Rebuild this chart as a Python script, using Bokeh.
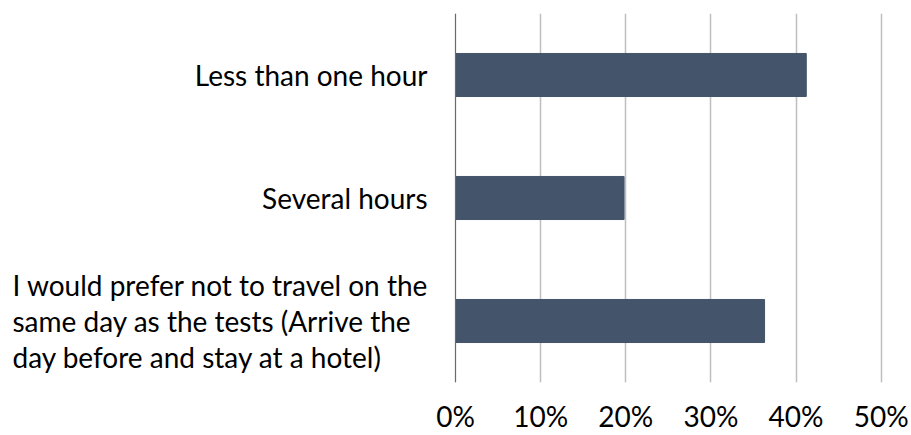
from bokeh.plotting import figure
from bokeh.models import Range1d, NumeralTickFormatter, FixedTicker, Span
from bokeh.embed import file_html
from bokeh.resources import INLINE

categories = [
    "Less than one hour",
    "Several hours",
    "I would prefer not to travel on the\nsame day as the tests (Arrive the\nday before and stay at a hotel)",
]
values = [0.412, 0.198, 0.363]
x_ticks = [0, 0.1, 0.2, 0.3, 0.4, 0.5]

FONT = "Lato"
FSIZE = "28px"

# layout: value 0 sits at pixel 455, 50% at ~881, in a 911px wide frame
W, H = 911, 435
ZERO_PX = 455
PX_PER_UNIT = 851.4
n = len(categories)
y_pos = [n - 1 - i for i in range(n)]  # first category on top

p = figure(
    width=W, height=H,
    y_range=Range1d(-0.5, n - 0.5),
    x_range=Range1d(-ZERO_PX / PX_PER_UNIT, (W - ZERO_PX) / PX_PER_UNIT),
    output_backend="svg", toolbar_location=None,
    min_border_left=0, min_border_right=0, min_border_top=13, min_border_bottom=52,
)
p.outline_line_color = None
p.background_fill_color = "white"
p.border_fill_color = "white"

p.xgrid.ticker = FixedTicker(ticks=x_ticks)
p.xgrid.grid_line_color = "#BFBFBF"
p.xgrid.grid_line_width = 1.5
p.ygrid.grid_line_color = None

p.hbar(y=y_pos, right=values, left=0, height=0.35, color="#44546A")

# value axis line at 0
p.add_layout(Span(location=0, dimension="height", line_color="#6B6B6B", line_width=1))

p.xaxis.ticker = FixedTicker(ticks=x_ticks)
p.xaxis.formatter = NumeralTickFormatter(format="0%")
p.xaxis.axis_line_color = None
p.xaxis.major_tick_line_color = None
p.xaxis.major_tick_out = 0
p.xaxis.minor_tick_line_color = None
p.xaxis.major_label_standoff = 16
p.xaxis.major_label_text_font = FONT
p.xaxis.major_label_text_font_size = FSIZE
p.xaxis.major_label_text_color = "#000000"
p.yaxis.visible = False

# category labels: short ones right-aligned next to the axis,
# the long one as a left-aligned block of lines
short_y = [y for y, c in zip(y_pos, categories) if "\n" not in c]
short_t = [c for c in categories if "\n" not in c]
long_y = [y for y, c in zip(y_pos, categories) if "\n" in c]
long_t = [c for c in categories if "\n" in c]

p.text(x=[0] * len(short_y), y=short_y, text=short_t, x_offset=-28,
       text_align="right", text_baseline="middle",
       text_font={"value": FONT}, text_font_size={"value": FSIZE}, text_color="#000000")
p.text(x=[0] * len(long_y), y=long_y, text=long_t, x_offset=12 - ZERO_PX,
       text_align="left", text_baseline="middle", text_line_height=1.07,
       text_font={"value": FONT}, text_font_size={"value": FSIZE}, text_color="#000000")

open("out.html", "w").write(file_html(p, INLINE))
